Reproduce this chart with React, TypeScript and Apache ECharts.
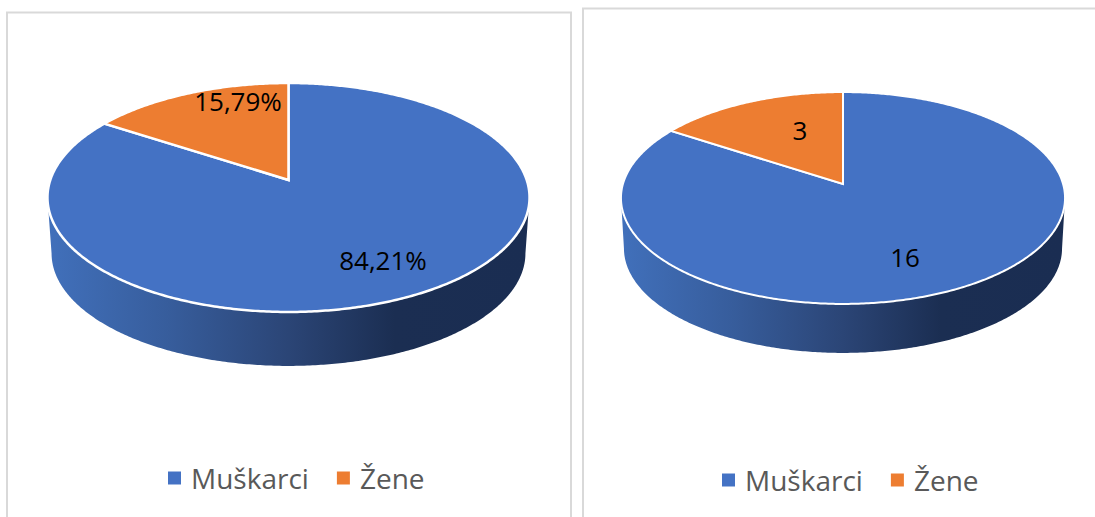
import React, { useEffect, useRef } from "react";
import * as echarts from "echarts";

const categories = ["Muškarci", "Žene"];
const colors = ["#4472c4", "#ed7d31"];
const percentValues = [84.21, 15.79];
const countValues = [16, 3];
const percentLabels = ["84,21%", "15,79%"];
const countLabels = ["16", "3"];

const FONT = "'Open Sans', sans-serif";

type Pie = {
  cx: number; tipY: number; A: number; B: number; k: number;
  s: number; dy: number; stroke: number;
  values: number[]; labels: string[];
  labelPos: [number, number][];
};

const leftPie: Pie = {
  cx: 288.5, tipY: 180, A: 238.2, B: 111.8, k: 0.1528, s: 0.983, dy: 56.2, stroke: 2.5,
  values: percentValues, labels: percentLabels,
  labelPos: [[383, 260], [238, 101]],
};
const rightPie: Pie = {
  cx: 843, tipY: 184, A: 220.1, B: 104.1, k: 0.132, s: 0.9865, dy: 50.6, stroke: 2,
  values: countValues, labels: countLabels,
  labelPos: [[905, 257], [800, 130]],
};

// projected rim point for an angle measured clockwise from twelve o'clock
function rim(p: Pie, theta: number, lower: boolean): number[] {
  const u = Math.sin(theta), v = Math.cos(theta);
  const d = 1 + p.k * v;
  const s = lower ? p.s : 1;
  const y0 = p.tipY + (lower ? p.dy : 0);
  return [p.cx + (s * p.A * u) / d, y0 - (s * p.B * v) / d];
}

function sample(a: number, b: number, step = 0.01): number[] {
  const out: number[] = [];
  for (let t = a; t < b; t += step) out.push(t);
  out.push(b);
  return out;
}

function renderSlice(p: Pie, index: number) {
  return () => {
    const total = p.values.reduce((x, y) => x + y, 0);
    const before = p.values.slice(0, index).reduce((x, y) => x + y, 0);
    const a0 = (before / total) * Math.PI * 2;
    const a1 = ((before + p.values[index]) / total) * Math.PI * 2;
    const children: any[] = [];

    const thetaW = Math.acos(-p.k);
    const w0 = Math.max(a0, thetaW);
    const w1 = Math.min(a1, Math.PI * 2 - thetaW);
    if (w1 > w0) {
      const ts = sample(w0, w1);
      const pts = [
        ...ts.map((t) => rim(p, t, false)),
        ...ts.slice().reverse().map((t) => rim(p, t, true)),
      ];
      children.push({
        type: "polygon",
        shape: { points: pts },
        style: {
          fill: new echarts.graphic.LinearGradient(0, 0, 1, 0, [
            { offset: 0, color: "#4170bb" },
            { offset: 0.25, color: "#375d9c" },
            { offset: 0.5, color: "#2b4576" },
            { offset: 0.72, color: "#1b2e52" },
            { offset: 1, color: "#1a2d52" },
          ]),
        },
      });
    }

    const top = [[p.cx, p.tipY], ...sample(a0, a1).map((t) => rim(p, t, false))];
    children.push({
      type: "polygon",
      shape: { points: top },
      style: { fill: colors[index], stroke: "#ffffff", lineWidth: p.stroke, lineJoin: "miter" },
    });
    children.push({
      type: "text",
      z2: 10,
      style: {
        x: p.labelPos[index][0],
        y: p.labelPos[index][1],
        text: p.labels[index],
        fill: "#000000",
        fontSize: 26,
        fontFamily: FONT,
        align: "center",
        verticalAlign: "middle",
      },
    });
    return { type: "group", children };
  };
}

function seriesFor(p: Pie) {
  return categories.map((name, i) => ({
    type: "custom",
    name,
    coordinateSystem: "none",
    itemStyle: { color: colors[i] },
    data: [[p.values[i]]],
    renderItem: renderSlice(p, i),
    silent: true,
    clip: false,
  }));
}

function legendAt(left: number, top: number) {
  return {
    left,
    top,
    padding: 0,
    orient: "horizontal",
    icon: "rect",
    itemWidth: 13,
    itemHeight: 13,
    itemGap: 28,
    selectedMode: false,
    data: categories,
    textStyle: {
      color: "#595959",
      fontSize: 28,
      fontFamily: FONT,
      padding: [0, 0, 0, 5],
    },
  };
}

export default function App() {
  const ref = useRef<HTMLDivElement>(null);
  useEffect(() => {
    const chart = echarts.init(ref.current!, undefined, { renderer: "svg" });
    chart.setOption({
      animation: false,
      backgroundColor: "#ffffff",
      legend: [legendAt(168, 464), legendAt(722, 466)],
      graphic: [
        {
          type: "rect",
          shape: { x: 7, y: 12.5, width: 564, height: 530 },
          style: { fill: "none", stroke: "#d9d9d9", lineWidth: 2 },
          silent: true,
          z: -1,
        },
        {
          type: "rect",
          shape: { x: 583, y: 8.5, width: 530, height: 530 },
          style: { fill: "none", stroke: "#d9d9d9", lineWidth: 2 },
          silent: true,
          z: -1,
        },
      ],
      series: [...seriesFor(leftPie), ...seriesFor(rightPie)],
    });
    return () => chart.dispose();
  }, []);
  return (
    <div
      ref={ref}
      style={{ position: "absolute", left: 0, top: 0, width: 1095, height: 517, overflow: "hidden" }}
    />
  );
}
